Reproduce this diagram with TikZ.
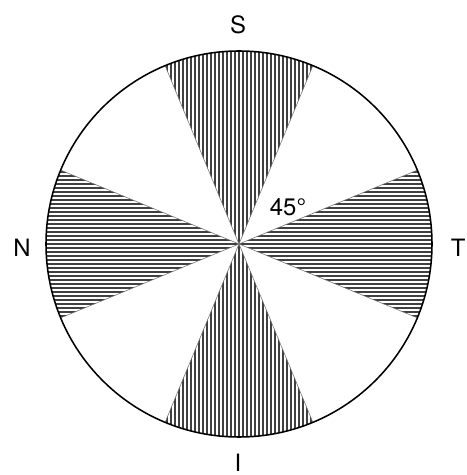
\documentclass[tikz,border=0pt]{standalone}
\usepackage{fontspec}
\setmainfont{TeX Gyre Heros}
\begin{document}
\begin{tikzpicture}[
  hatch/.style={draw=black!75, line width=0.75pt},
  edge/.style={draw=black!55, line width=0.4pt},
  pole/.style={font=\fontsize{17}{20}\selectfont, inner sep=0pt}]
\useasboundingbox (-5.975,-5.775) rectangle (5.7,6.1);
\coordinate (O) at (0,0);
% vertical hatching, top and bottom
\foreach \a in {90,270} {
  \begin{scope}
    \clip (O) -- (\a-22.5:4.825) arc[start angle=\a-22.5, end angle=\a+22.5, radius=4.825] -- cycle;
    \foreach \x in {-1.9,-1.8,...,1.95} \draw[hatch] (\x,-5) -- (\x,5);
  \end{scope}
  \draw[edge] (\a-22.5:4.825) -- (O) -- (\a+22.5:4.825);
}
% horizontal hatching, left and right
\foreach \a in {0,180} {
  \begin{scope}
    \clip (O) -- (\a-22.5:4.825) arc[start angle=\a-22.5, end angle=\a+22.5, radius=4.825] -- cycle;
    \foreach \y in {-1.9,-1.8,...,1.95} \draw[hatch] (-5,\y) -- (5,\y);
  \end{scope}
  \draw[edge] (\a-22.5:4.825) -- (O) -- (\a+22.5:4.825);
}
\draw[line width=1.1pt] (O) circle[radius=4.825];
\node[pole] (S) at (-0.025,5.475) {S};
\node[pole] (N) at (-5.425,-0.1) {N};
\node[pole] (T) at (5.48,-0.1) {T};
\node[pole, anchor=base] (I) at (-0.025,-5.68) {I};
\node[pole] (ang) at (1.225,0.925) {45°};
\end{tikzpicture}
\end{document}
